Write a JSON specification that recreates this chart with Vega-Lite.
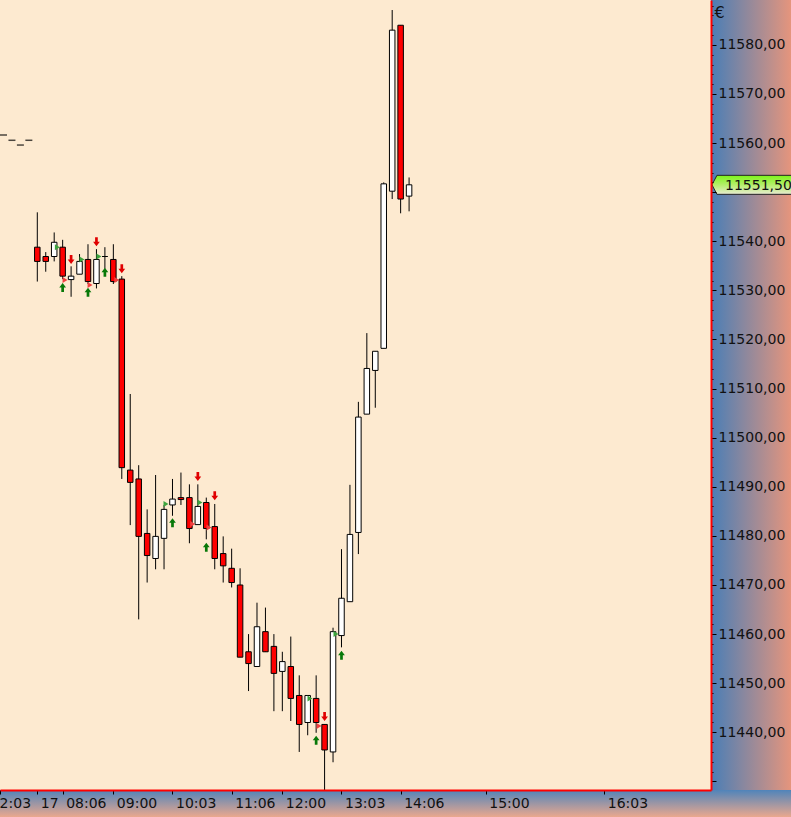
{
  "$schema": "https://vega.github.io/schema/vega-lite/v6.json",
  "width": 711,
  "height": 790,
  "autosize": {"type": "none"},
  "padding": {"left": 0, "top": 0, "right": 80, "bottom": 27},
  "background": "#FDEAD0",
  "config": {
    "view": {"fill": "#FDEAD0", "stroke": null},
    "axis": {"labelFont": "DejaVu Sans", "labelFontSize": 14, "labelColor": "#111111", "titleFont": "DejaVu Sans", "grid": false}
  },
  "datasets": {
    "candles": [
      {"i":1,"o":11538.8,"h":11545.9,"l":11531.8,"c":11535.9},
      {"i":2,"o":11536.9,"h":11537.8,"l":11533.8,"c":11535.9},
      {"i":3,"o":11536.9,"h":11541.8,"l":11535.9,"c":11539.8},
      {"i":4,"o":11538.8,"h":11540.3,"l":11532.3,"c":11532.9},
      {"i":5,"o":11532.2,"h":11534.9,"l":11528.7,"c":11532.9},
      {"i":6,"o":11533.3,"h":11537.4,"l":11533.3,"c":11535.9},
      {"i":7,"o":11536.3,"h":11539.4,"l":11531.3,"c":11531.8},
      {"i":8,"o":11531.4,"h":11538.4,"l":11530.4,"c":11536.3},
      {"i":9,"o":11536.9,"h":11538.8,"l":11534.4,"c":11536.9},
      {"i":10,"o":11536.3,"h":11539.4,"l":11531.3,"c":11531.8},
      {"i":11,"o":11532.3,"h":11532.9,"l":11491.6,"c":11493.9},
      {"i":12,"o":11493.4,"h":11508.9,"l":11482.2,"c":11490.9},
      {"i":13,"o":11491.6,"h":11494.4,"l":11463.0,"c":11479.9},
      {"i":14,"o":11480.5,"h":11485.4,"l":11470.5,"c":11476.0},
      {"i":15,"o":11475.4,"h":11492.4,"l":11473.2,"c":11479.9},
      {"i":16,"o":11479.5,"h":11486.3,"l":11473.2,"c":11485.4},
      {"i":17,"o":11486.3,"h":11491.6,"l":11484.1,"c":11487.5},
      {"i":18,"o":11487.8,"h":11492.9,"l":11486.3,"c":11487.4},
      {"i":19,"o":11487.8,"h":11490.5,"l":11478.5,"c":11481.5},
      {"i":20,"o":11482.3,"h":11490.5,"l":11482.3,"c":11486.0},
      {"i":21,"o":11486.8,"h":11487.8,"l":11479.3,"c":11481.5},
      {"i":22,"o":11481.9,"h":11486.5,"l":11473.2,"c":11475.4},
      {"i":23,"o":11476.4,"h":11479.9,"l":11470.5,"c":11473.9},
      {"i":24,"o":11473.4,"h":11477.4,"l":11469.5,"c":11470.5},
      {"i":25,"o":11470.0,"h":11473.4,"l":11455.3,"c":11455.3},
      {"i":26,"o":11456.4,"h":11460.0,"l":11448.4,"c":11454.0},
      {"i":27,"o":11453.4,"h":11466.4,"l":11453.4,"c":11461.5},
      {"i":28,"o":11460.5,"h":11465.4,"l":11456.4,"c":11456.4},
      {"i":29,"o":11457.5,"h":11460.0,"l":11444.3,"c":11452.0},
      {"i":30,"o":11452.4,"h":11456.4,"l":11444.3,"c":11454.4},
      {"i":31,"o":11453.4,"h":11459.5,"l":11442.3,"c":11446.9},
      {"i":32,"o":11447.5,"h":11451.6,"l":11436.0,"c":11441.6},
      {"i":33,"o":11442.0,"h":11447.5,"l":11439.4,"c":11447.5},
      {"i":34,"o":11446.9,"h":11451.6,"l":11439.9,"c":11442.0},
      {"i":35,"o":11441.6,"h":11441.6,"l":11427.0,"c":11436.4},
      {"i":36,"o":11436.0,"h":11461.3,"l":11433.9,"c":11460.5},
      {"i":37,"o":11459.7,"h":11477.3,"l":11457.3,"c":11467.3},
      {"i":38,"o":11466.6,"h":11490.4,"l":11466.6,"c":11480.3},
      {"i":39,"o":11480.7,"h":11507.3,"l":11476.3,"c":11504.2},
      {"i":40,"o":11504.8,"h":11521.3,"l":11504.8,"c":11514.1},
      {"i":41,"o":11513.7,"h":11517.6,"l":11506.1,"c":11517.6},
      {"i":42,"o":11518.2,"h":11552.0,"l":11518.2,"c":11551.7},
      {"i":43,"o":11550.2,"h":11587.1,"l":11548.6,"c":11583.0},
      {"i":44,"o":11584.0,"h":11584.0,"l":11545.7,"c":11548.6},
      {"i":45,"o":11549.2,"h":11553.0,"l":11546.1,"c":11551.5}
    ],
    "signals": [
      {"i":5,"p":11536.3,"type":"down"},
      {"i":8,"p":11539.9,"type":"down"},
      {"i":11,"p":11534.4,"type":"down"},
      {"i":20,"p":11492.1,"type":"down"},
      {"i":22,"p":11488.2,"type":"down"},
      {"i":35,"p":11443.2,"type":"down"},
      {"i":4,"p":11530.6,"type":"up"},
      {"i":7,"p":11529.6,"type":"up"},
      {"i":9,"p":11533.7,"type":"up"},
      {"i":17,"p":11482.7,"type":"up"},
      {"i":21,"p":11477.7,"type":"up"},
      {"i":34,"p":11438.4,"type":"up"},
      {"i":37,"p":11455.7,"type":"up"},
      {"i":3.37,"p":11538.8,"type":"chkG"},
      {"i":6.29,"p":11536.3,"type":"chkG"},
      {"i":8.3,"p":11536.9,"type":"chkG"},
      {"i":16.23,"p":11486.5,"type":"chkG"},
      {"i":20.25,"p":11486.8,"type":"chkG"},
      {"i":33.27,"p":11446.9,"type":"chkG"},
      {"i":36.35,"p":11460.0,"type":"chkG"},
      {"i":4.28,"p":11532.1,"type":"chkR"},
      {"i":7.24,"p":11531.1,"type":"chkR"},
      {"i":10.4,"p":11532.1,"type":"chkR"},
      {"i":19.39,"p":11482.4,"type":"chkR"},
      {"i":21.32,"p":11481.7,"type":"chkR"},
      {"i":34.34,"p":11441.3,"type":"chkR"}
    ],
    "dashes": [
      {"i":-3,"p":11561.65},
      {"i":-2,"p":11560.57},
      {"i":-1,"p":11559.6},
      {"i":0,"p":11560.57}
    ],
    "last": [{"price": 11551.5, "label": "11551,50"}]
  },
  "layer": [
    {
      "data": {"values": [{"part": "time axis band"}]},
      "mark": {"type": "rect", "clip": false, "fill": {"gradient": "linear", "x1": 0, "y1": 0, "x2": 0, "y2": 1, "stops": [{"offset": 0, "color": "#5084BA"}, {"offset": 1, "color": "#EAA88E"}]}},
      "encoding": {
        "x": {"datum": -3.414, "type": "quantitative", "scale": {"domain": [-3.414, 80.73], "nice": false, "zero": false, "padding": 0}},
        "x2": {"datum": 90.2},
        "y": {"datum": 11428.25, "type": "quantitative", "scale": {"domain": [11428.25, 11589.14], "nice": false, "zero": false, "padding": 0}},
        "y2": {"datum": 11422.75}
      }
    },
    {
      "data": {"values": [{"part": "price axis panel"}]},
      "mark": {"type": "rect", "clip": false, "fill": {"gradient": "linear", "x1": 0, "y1": 0, "x2": 1, "y2": 0, "stops": [{"offset": 0, "color": "#4A7EB6"}, {"offset": 1, "color": "#E5957D"}]}},
      "encoding": {
        "x": {"datum": 80.73, "type": "quantitative"},
        "x2": {"datum": 90.2},
        "y": {"datum": 11589.14, "type": "quantitative"},
        "y2": {"datum": 11428.25}
      }
    },
    {
      "data": {"name": "dashes"},
      "mark": {"type": "tick", "orient": "horizontal", "size": 7, "thickness": 1.5, "color": "#000000", "clip": true},
      "encoding": {
        "x": {"field": "i", "type": "quantitative"},
        "y": {"field": "p", "type": "quantitative"}
      }
    },
    {
      "data": {"name": "candles"},
      "mark": {"type": "rule", "color": "#000000", "strokeWidth": 1, "clip": true},
      "encoding": {
        "x": {
          "field": "i", "type": "quantitative",
          "scale": {"domain": [-3.414, 80.73], "nice": false, "zero": false, "padding": 0},
          "axis": {
            "orient": "bottom",
            "zindex": 2,
            "tickCount": 100,
            "values": [-3.4, 1, 4, 10, 17, 24, 30, 37, 44, 54.07, 68.1],
            "labelExpr": "datum.value < 0 ? '2:03' : datum.value == 1 ? '17' : datum.value == 4 ? '08:06' : datum.value == 10 ? '09:00' : datum.value == 17 ? '10:03' : datum.value == 24 ? '11:06' : datum.value == 30 ? '12:00' : datum.value == 37 ? '13:03' : datum.value == 44 ? '14:06' : datum.value < 60 ? '15:00' : '16:03'",
            "title": null,
            "domainColor": "#FF0000",
            "domainWidth": 2,
            "tickColor": "#000000",
            "tickSize": 4,
            "labelAlign": "left",
            "labelOffset": {"condition": {"test": "datum.value < 0", "value": -1}, "value": 3},
            "labelPadding": 2,
            "labelFlush": false,
            "labelOverlap": false,
            "labelBound": false
          }
        },
        "y": {
          "field": "l", "type": "quantitative",
          "scale": {"domain": [11428.25, 11589.14], "nice": false, "zero": false, "padding": 0},
          "axis": {
            "orient": "right",
            "zindex": 2,
            "tickCount": 200,
            "values": [11430,11432,11434,11436,11438,11440,11442,11444,11446,11448,11450,11452,11454,11456,11458,11460,11462,11464,11466,11468,11470,11472,11474,11476,11478,11480,11482,11484,11486,11488,11490,11492,11494,11496,11498,11500,11502,11504,11506,11508,11510,11512,11514,11516,11518,11520,11522,11524,11526,11528,11530,11532,11534,11536,11538,11540,11542,11544,11546,11548,11550,11552,11554,11556,11558,11560,11562,11564,11566,11568,11570,11572,11574,11576,11578,11580,11582,11584,11586,11588],
            "labelExpr": "datum.value % 10 == 0 && datum.value >= 11440 && datum.value != 11550 ? replace(format(datum.value, '.2f'), '.', ',') : ''",
            "tickSize": {"condition": {"test": "datum.value % 10 == 0", "value": 5}, "value": 2},
            "tickColor": "#000000",
            "domainColor": "#FF0000",
            "domainWidth": 2,
            "labelPadding": 2,
            "labelAlign": "left",
            "labelBaseline": "middle",
            "labelOverlap": false,
            "labelFlush": false,
            "labelBound": false,
            "title": "€",
            "titleAngle": 0,
            "titleX": 3,
            "titleY": 4,
            "titleAlign": "left",
            "titleBaseline": "top",
            "titleFontSize": 16,
            "titleFontWeight": "normal",
            "titleColor": "#111111"
          }
        },
        "y2": {"field": "h"}
      }
    },
    {
      "data": {"name": "candles"},
      "mark": {"type": "bar", "size": 5.5, "stroke": "#000000", "strokeWidth": 1, "clip": true},
      "encoding": {
        "x": {"field": "i", "type": "quantitative"},
        "y": {"field": "o", "type": "quantitative"},
        "y2": {"field": "c"},
        "fill": {"condition": {"test": "datum.c < datum.o", "value": "#FF0000"}, "value": "#FFFFFF"}
      }
    },
    {
      "data": {"name": "signals"},
      "mark": {"type": "point", "filled": true, "size": 81, "opacity": 1, "strokeWidth": 0, "clip": true},
      "encoding": {
        "x": {"field": "i", "type": "quantitative"},
        "y": {"field": "p", "type": "quantitative"},
        "shape": {
          "field": "type", "type": "nominal", "legend": null,
          "scale": {"domain": ["down", "up", "chkG", "chkR"], "range": ["M-0.3,-1L0.3,-1L0.3,0L0.75,0L0,1L-0.75,0L-0.3,0Z", "M-0.3,1L0.3,1L0.3,0L0.75,0L0,-1L-0.75,0L-0.3,0Z", "M-0.55,-0.67L0.55,0L-0.55,0.67Z", "M-0.55,-0.67L0.55,0L-0.55,0.67Z"]}
        },
        "fill": {
          "field": "type", "type": "nominal", "legend": null,
          "scale": {"domain": ["down", "up", "chkG", "chkR"], "range": ["#E00000", "#087808", "#3DA33D", "#F04040"]}
        }
      }
    },
    {
      "data": {"name": "last"},
      "mark": {"type": "point", "filled": true, "size": 6400, "opacity": 1, "clip": false, "stroke": "#222222", "strokeWidth": 1, "shape": "M-1,0L-0.875,-0.2375L1,-0.2375L1,0.2375L-0.875,0.2375Z", "fill": {"gradient": "linear", "x1": 0, "y1": 0, "x2": 0, "y2": 1, "stops": [{"offset": 0, "color": "#7CF51A"}, {"offset": 0.5, "color": "#B4EE6A"}, {"offset": 1, "color": "#E8ECD2"}]}},
      "encoding": {
        "x": {"datum": 85.58, "type": "quantitative"},
        "y": {"field": "price", "type": "quantitative"}
      }
    },
    {
      "data": {"name": "last"},
      "mark": {"type": "text", "align": "left", "baseline": "middle", "font": "DejaVu Sans", "fontSize": 14, "color": "#111111", "dy": 1, "clip": false},
      "encoding": {
        "x": {"datum": 82.39, "type": "quantitative"},
        "y": {"field": "price", "type": "quantitative"},
        "text": {"field": "label"}
      }
    }
  ]
}
